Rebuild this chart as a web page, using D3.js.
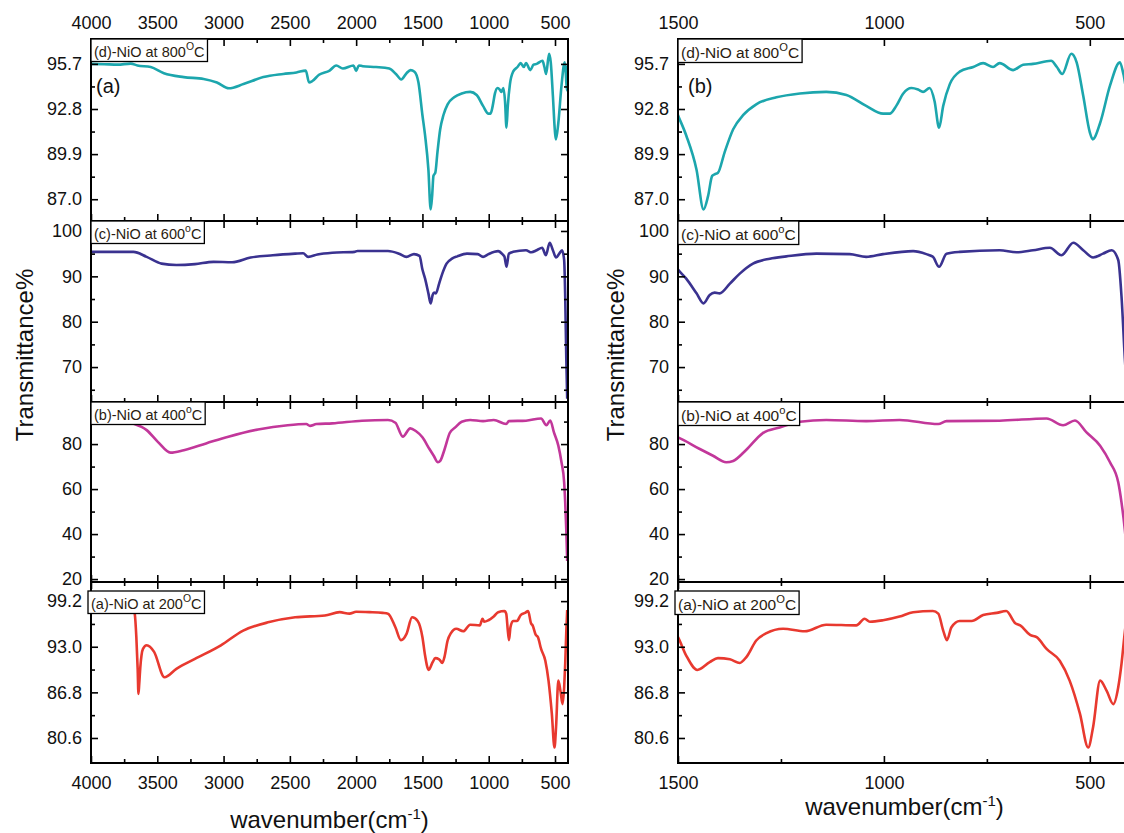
<!DOCTYPE html>
<html lang="en">
<head>
<meta charset="UTF-8">
<title>FTIR NiO</title>
<script src="https://d3js.org/d3.v7.min.js"></script>
<style>
  body { margin: 0; background: #fff; }
  svg { display: block; font-family: "Liberation Sans", Arial, sans-serif; }
  .tick line { stroke: #000; stroke-width: 1.6; }
  .tick text { fill: #111; font-size: 18px; }
</style>
</head>
<body>
<div id="chart"></div>
<script>
// spectra: [wavenumber (cm-1), transmittance %]
const nio800 = [[4000,95.7],[3900,95.68],[3800,95.65],[3700,95.72],[3650,95.6],[3550,95.5],[3450,95.1],[3300,94.85],[3150,94.73],[3050,94.5],[2960,94.13],[2850,94.4],[2700,94.85],[2550,95.05],[2450,95.15],[2380,95.27],[2355,94.5],[2330,94.6],[2280,95.0],[2200,95.27],[2150,95.6],[2100,95.4],[2020,95.6],[2000,95.25],[1980,95.6],[1950,95.55],[1850,95.5],[1750,95.4],[1700,95.05],[1660,94.7],[1620,95.1],[1590,95.3],[1560,95.2],[1530,94.5],
  [1500,92.4],[1480,91.1],[1455,88.9],[1438,86.35],[1427,87.2],[1417,88.5],[1411,88.6],[1403,88.7],[1387,90.0],[1366,91.5],[1342,92.4],[1310,93.1],[1261,93.55],[1204,93.8],[1140,93.9],[1091,93.7],[1043,93.0],[1002,92.5],[986,92.5],[970,93.0],[953,93.8],[933,94.15],[917,94.05],[905,93.9],[889,94.15],[877,93.3],[866,91.6],[856,93.0],[840,94.4],[816,95.2],[783,95.5],[759,95.75],[735,95.5],[719,95.75],[686,95.3],[662,95.65],[638,95.7],[594,95.9],[580,95.5],[567,95.05],[545,96.35],[532,95.8],[516,93.65],[500,91.3],[493,90.85],[475,91.9],[451,94.3],[427,95.8],[418,95.0],[410,94.0],[405,95.5],[400,95.6]];

const nio600 = [[4000,95.4],[3860,95.4],[3680,95.4],[3580,94.3],[3468,92.8],[3356,92.5],[3216,92.7],[3076,93.2],[2936,93.1],[2796,94.15],[2628,94.65],[2460,95.0],[2400,95.1],[2362,94.3],[2292,94.8],[2180,95.2],[2012,95.4],[1990,95.6],[1760,95.6],[1676,95.0],[1620,94.3],[1564,94.9],[1522,94.5],
  [1500,91.5],[1480,89.5],[1455,86.25],[1438,84.05],[1423,85.9],[1411,86.4],[1399,86.25],[1374,88.4],[1350,90.6],[1318,92.8],[1277,93.9],[1237,94.4],[1164,95.0],[1083,94.9],[1043,94.3],[1002,94.9],[929,95.55],[897,94.9],[881,94.3],[866,92.1],[848,95.0],[816,95.4],[719,95.75],[678,95.3],[638,95.75],[597,96.3],[569,94.65],[540,97.4],[516,95.75],[492,94.15],[468,95.0],[447,95.75],[431,93.6],[423,85.5],[415,72],[408,63]];

const nio400 = [[4000,93],[3850,92],[3700,89.5],[3580,86.2],[3496,81.0],[3400,76.2],[3300,77.3],[3132,80.3],[2964,83.3],[2740,86.5],[2516,88.4],[2376,88.9],[2348,88.1],[2300,88.9],[2180,89.2],[1956,90.4],[1760,90.7],[1704,89.5],[1648,83.3],[1592,87.0],[1550,85.8],
  [1500,83.0],[1447,77.8],[1415,74.8],[1383,71.9],[1366,72.5],[1334,77.5],[1294,84.9],[1253,87.4],[1204,89.9],[1140,90.7],[1043,90.2],[962,90.7],[868,88.9],[848,90.2],[719,90.4],[605,91.4],[565,88.4],[536,90.5],[508,85.2],[475,79.3],[451,71.9],[431,63.0],[423,54],[415,42],[408,28]];

const nio200 = [[3700,99.5],[3670,97.5],[3658,94.3],[3648,90],[3642,86.6],[3636,88],[3628,90.2],[3608,92.7],[3580,93.2],[3524,92.3],[3446,88.85],[3356,90.0],[3216,91.35],[3020,93.2],[2852,95.2],[2656,96.35],[2460,97.0],[2236,97.25],[2124,97.7],[2050,97.5],[2000,97.75],[1900,97.7],[1800,97.6],[1760,97.5],[1704,95.65],[1662,93.9],[1620,94.75],[1578,97.0],[1536,96.5],
  [1500,94.3],[1480,91.8],[1453,89.85],[1423,90.9],[1403,91.45],[1374,91.3],[1350,90.8],[1334,91.6],[1310,93.85],[1285,94.85],[1245,95.45],[1192,95.1],[1140,96.0],[1067,95.9],[1047,96.8],[1034,96.4],[1002,96.6],[962,97.1],[929,97.7],[881,97.85],[868,97.5],[856,95.2],[847,93.9],[836,95.65],[816,96.5],[787,96.5],[759,97.3],[726,97.6],[703,97.85],[681,96.2],[669,95.9],[645,94.6],[629,94.3],[605,92.7],[573,91.1],[549,88.4],[524,83.9],[504,79.3],[492,82.1],[475,88.4],[459,87.0],[443,85.2],[431,87.5],[423,90.7],[415,95],[408,98]];

const labels = ["(d)-NiO at 800", "(c)-NiO at 600", "(b)-NiO at 400", "(a)-NiO at 200"];
const labelSup = ["O", "o", "o", "O"];
const colors = ["#1ca6ad", "#3a3290", "#c2379a", "#e8392f"];

const yTicks800 = [87.0, 89.9, 92.8, 95.7];
const yTicks600 = [70, 80, 90, 100];
const yTicks400 = [20, 40, 60, 80];
const yTicks200 = [80.6, 86.8, 93.0, 99.2];
const yRange800 = [85.6, 97.3];
const yRange600 = [62.3, 102.2];
const yRange400 = [18.7, 98.7];
const yRange200 = [77.2, 101.8];

const xTicksFull = [4000, 3500, 3000, 2500, 2000, 1500, 1000, 500];
const xTicksZoom = [1500, 1000, 500];

const series = [
  {data: nio800, ticks: yTicks800, range: yRange800, fmt: d3.format(".1f")},
  {data: nio600, ticks: yTicks600, range: yRange600, fmt: d3.format("d")},
  {data: nio400, ticks: yTicks400, range: yRange400, fmt: d3.format("d")},
  {data: nio200, ticks: yTicks200, range: yRange200, fmt: d3.format(".1f")}
];

const W = 1124, H = 833;
const rows = [39, 221, 402, 582, 763];
const cols = [
  {x0: 91, x1: 568, domain: [4000, 402], ticks: xTicksFull, font: 14.5, tag: "(a)"},
  {x0: 678, x1: 1131, domain: [1500, 400], ticks: xTicksZoom, font: 15.5, tag: "(b)"}
];

const svg = d3.select("#chart").append("svg")
  .attr("width", W).attr("height", H);
const defs = svg.append("defs");

// minor ticks sit halfway between the labelled ones
function minors(vals, lo, hi) {
  const step = vals[1] - vals[0];
  const out = [];
  for (let v = vals[0] - step / 2; v < hi; v += step) if (v > lo + 0.2 * Math.abs(step) / 2) out.push(v);
  return out.filter(v => v < hi - 0.2 * Math.abs(step) / 2);
}

cols.forEach((col, ci) => {
  const x = d3.scaleLinear().domain(col.domain).range([col.x0, col.x1]);
  const xLo = Math.min(...col.domain), xHi = Math.max(...col.domain);
  const xStep = col.ticks[0] - col.ticks[1];
  const xMinor = d3.range(col.ticks[0] - xStep / 2, xLo, -xStep);

  series.forEach((s, r) => {
    const top = rows[r], bottom = rows[r + 1];
    const y = d3.scaleLinear().domain(s.range).range([bottom, top]);
    const yMinor = minors(s.ticks, s.range[0], s.range[1]);
    const g = svg.append("g");

    const id = `clip-${ci}-${r}`;
    defs.append("clipPath").attr("id", id).append("rect")
      .attr("x", col.x0).attr("y", top)
      .attr("width", col.x1 - col.x0).attr("height", bottom - top);

    g.append("path")
      .datum(s.data)
      .attr("clip-path", `url(#${id})`)
      .attr("fill", "none")
      .attr("stroke", colors[r])
      .attr("stroke-width", 2.6)
      .attr("stroke-linejoin", "round")
      .attr("d", d3.line().x(d => x(d[0])).y(d => y(d[1])).curve(d3.curveMonotoneX));

    // inward ticks on all four sides
    const bot = g.append("g").attr("transform", `translate(0,${bottom})`)
      .call(d3.axisBottom(x).tickValues(col.ticks).tickSize(-7).tickPadding(13)
        .tickFormat(r === 3 ? d3.format("d") : ""));
    g.append("g").attr("transform", `translate(0,${bottom})`)
      .call(d3.axisBottom(x).tickValues(xMinor).tickSize(-4).tickFormat(""));
    g.append("g").attr("transform", `translate(0,${top})`)
      .call(d3.axisTop(x).tickValues(col.ticks).tickSize(-7).tickPadding(10)
        .tickFormat(r === 0 ? d3.format("d") : ""));
    g.append("g").attr("transform", `translate(0,${top})`)
      .call(d3.axisTop(x).tickValues(xMinor).tickSize(-4).tickFormat(""));
    g.append("g").attr("transform", `translate(${col.x0},0)`)
      .call(d3.axisLeft(y).tickValues(s.ticks).tickSize(-7).tickPadding(9).tickFormat(s.fmt));
    g.append("g").attr("transform", `translate(${col.x0},0)`)
      .call(d3.axisLeft(y).tickValues(yMinor).tickSize(-4).tickFormat(""));
    g.append("g").attr("transform", `translate(${col.x1},0)`)
      .call(d3.axisRight(y).tickValues(s.ticks).tickSize(-7).tickFormat(""));
    g.append("g").attr("transform", `translate(${col.x1},0)`)
      .call(d3.axisRight(y).tickValues(yMinor).tickSize(-4).tickFormat(""));
    g.selectAll(".domain").remove();
    g.selectAll(".tick text").attr("font-family", null).attr("font-size", null);

    g.append("rect")
      .attr("x", col.x0).attr("y", top)
      .attr("width", col.x1 - col.x0).attr("height", bottom - top)
      .attr("fill", "none").attr("stroke", "#000").attr("stroke-width", 2);

    // sample label box
    const bx = col.x0 + (r === 3 ? -3 : 0), by = top + (r === 3 ? 9 : 0);
    const lb = g.append("g").attr("transform", `translate(${bx},${by})`);
    const rect = lb.append("rect");
    const t = lb.append("text")
      .attr("x", 3).attr("y", col.font + 3)
      .attr("font-size", col.font)
      .attr("fill", "#2a1c10");
    t.append("tspan").text(labels[r]);
    t.append("tspan").attr("dy", -col.font * 0.42).attr("font-size", col.font * 0.72).text(labelSup[r]);
    t.append("tspan").attr("dy", col.font * 0.42).text("C");
    const bb = t.node().getBBox();
    rect.attr("x", 0).attr("y", 0)
      .attr("width", bb.x + bb.width + 3).attr("height", col.font + 8)
      .attr("fill", "#fff").attr("stroke", "#000").attr("stroke-width", 1.3);

    if (r === 0) {
      g.append("text")
        .attr("x", col.x0 + (ci === 0 ? 5 : 10)).attr("y", 93)
        .attr("font-size", 20).attr("fill", "#111")
        .text(col.tag);
    }
  });

  // axis titles
  const cx = (col.x0 + col.x1) / 2;
  const xt = svg.append("text")
    .attr("x", cx).attr("y", ci === 0 ? 828 : 815)
    .attr("text-anchor", "middle")
    .attr("font-size", 24).attr("fill", "#111");
  xt.append("tspan").text("wavenumber(cm");
  xt.append("tspan").attr("dy", -9).attr("font-size", 15).text("-1");
  xt.append("tspan").attr("dy", 9).text(")");

  svg.append("text")
    .attr("transform", `translate(${ci === 0 ? 33 : 624},355) rotate(-90)`)
    .attr("text-anchor", "middle")
    .attr("font-size", 24).attr("fill", "#111")
    .text("Transmittance%");
});
</script>
</body>
</html>
